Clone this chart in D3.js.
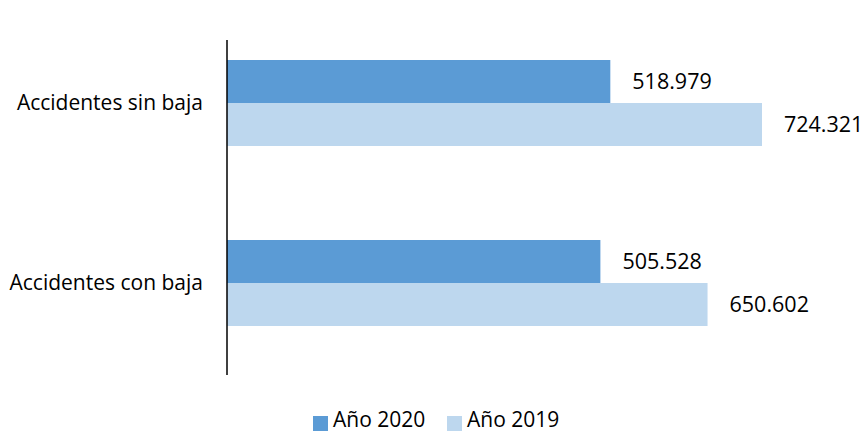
<!DOCTYPE html>
<html>
<head>
<meta charset="utf-8">
<script src="https://cdn.jsdelivr.net/npm/d3@7"></script>
<style>
  body { margin: 0; background: #fff; }
  text { font-family: "Open Sans", sans-serif; fill: #000; }
</style>
</head>
<body>
<div id="chart"></div>
<script>
const categories = ["Accidentes sin baja", "Accidentes con baja"];
const seriesNames = ["Año 2020", "Año 2019"];
const values2020 = [518979, 505528];
const values2019 = [724321, 650602];
const colors = ["#5B9BD5", "#BDD7EE"];

const w = 866, h = 433;
const x0 = 227;

const svg = d3.select("#chart").append("svg")
  .attr("width", w).attr("height", h);

const xScale = d3.scaleLinear()
  .domain([0, 800000])
  .range([x0, x0 + 800 * 0.7386]);

const yScale = d3.scaleBand()
  .domain(categories)
  .range([13, 373]);

const inner = d3.scaleBand()
  .domain(seriesNames)
  .range([0, 86]);

const fmt = d => d3.format(",")(d).replace(/,/g, ".");

const rows = [];
categories.forEach((c, i) => {
  rows.push({ cat: c, s: seriesNames[0], v: values2020[i], color: colors[0] });
  rows.push({ cat: c, s: seriesNames[1], v: values2019[i], color: colors[1] });
});

const barY = d => yScale(d.cat) + yScale.bandwidth() / 2 - 43 + inner(d.s);

svg.selectAll("rect.bar")
  .data(rows)
  .enter()
  .append("rect")
  .attr("class", "bar")
  .attr("x", xScale(0))
  .attr("y", barY)
  .attr("width", d => xScale(d.v) - xScale(0))
  .attr("height", inner.bandwidth())
  .attr("fill", d => d.color);

svg.selectAll("text.val")
  .data(rows)
  .enter()
  .append("text")
  .attr("class", "val")
  .attr("x", d => xScale(d.v) + 22)
  .attr("y", d => barY(d) + inner.bandwidth() / 2)
  .attr("dy", "0.35em")
  .style("font-size", "21.5px")
  .text(d => fmt(d.v));

// axis line
svg.append("line")
  .attr("x1", x0).attr("x2", x0)
  .attr("y1", 40).attr("y2", 375)
  .attr("stroke", "#000")
  .attr("stroke-width", 1.5);

svg.selectAll("text.cat")
  .data(categories)
  .enter()
  .append("text")
  .attr("class", "cat")
  .attr("x", 203)
  .attr("y", d => yScale(d) + yScale.bandwidth() / 2)
  .attr("dy", "0.35em")
  .attr("text-anchor", "end")
  .style("font-size", "21px")
  .text(d => d);

// legend
const legendX = [313, 447];
const legend = svg.selectAll("g.legend")
  .data(seriesNames)
  .enter()
  .append("g")
  .attr("class", "legend")
  .attr("transform", (d, i) => "translate(" + legendX[i] + ",416)");

legend.append("rect")
  .attr("width", 15).attr("height", 15)
  .attr("fill", (d, i) => colors[i]);

legend.append("text")
  .attr("x", 20)
  .attr("y", 11)
  .style("font-size", "21px")
  .text(d => d);
</script>
</body>
</html>
